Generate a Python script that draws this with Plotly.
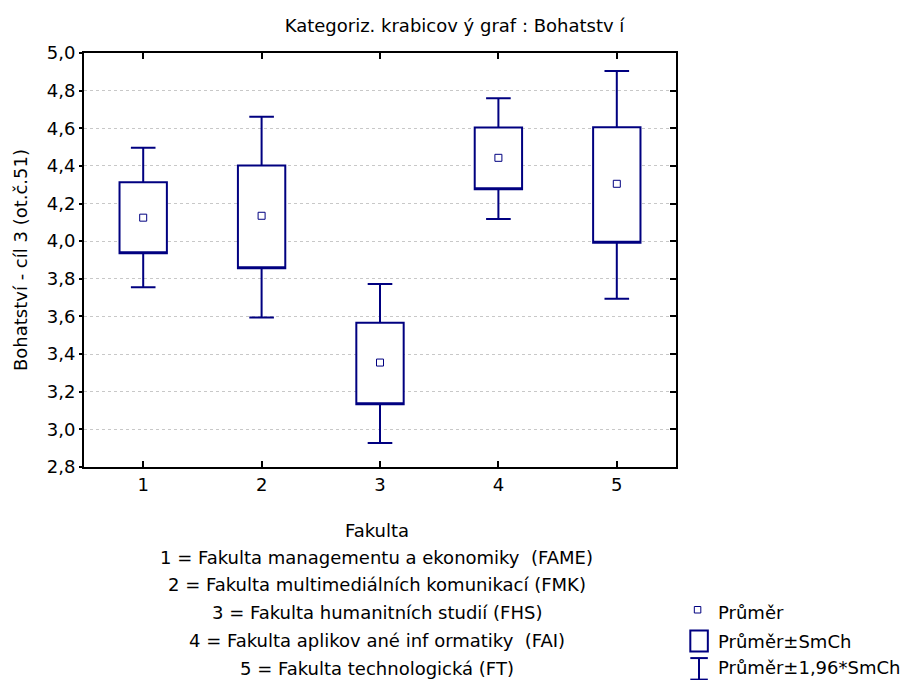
import plotly.graph_objects as go

# ---- data ----
categories = [1, 2, 3, 4, 5]
tick_labels = ["1", "2", "3", "4", "5"]
means = [4.125, 4.135, 3.355, 4.443, 4.305]
box_low = [3.936, 3.856, 3.134, 4.276, 3.992]     # mean - SE
box_high = [4.313, 4.402, 3.566, 4.604, 4.606]    # mean + SE
whisk_low = [3.755, 3.595, 2.928, 4.118, 3.694]   # mean - 1.96*SE
whisk_high = [4.496, 4.661, 3.772, 4.760, 4.904]  # mean + 1.96*SE

title_text = "Kategoriz. krabicov ý graf : Bohatstv í"
y_title = "Bohatství - cíl 3 (ot.č.51)"
x_title_lines = [
    "Fakulta",
    "1 = Fakulta managementu a ekonomiky  (FAME)",
    "2 = Fakulta multimediálních komunikací (FMK)",
    "3 = Fakulta humanitních studií (FHS)",
    "4 = Fakulta aplikov ané inf ormatiky  (FAI)",
    "5 = Fakulta technologická (FT)",
]
legend_labels = ["Průměr", "Průměr±SmCh", "Průměr±1,96*SmCh"]

NAVY = "#000080"
FONT = "DejaVu Sans"
FS = 18

W, H = 909, 680
L, R, T, B = 84.3, 675.7, 53.3, 466.7  # plot area in pixels


def px_x(px):
    return (px - L) / (R - L)


def px_y(py):
    return (B - py) / (B - T)


fig = go.Figure()

fig.add_trace(go.Box(
    x=categories,
    q1=box_low, median=box_low, q3=box_high,
    lowerfence=whisk_low, upperfence=whisk_high,
    width=0.4, whiskerwidth=0.52,
    fillcolor="white",
    line=dict(color=NAVY, width=2),
    boxpoints=False,
    showlegend=False,
    hoverinfo="skip",
))

fig.add_trace(go.Scatter(
    x=categories, y=means, mode="markers",
    marker=dict(symbol="square-open", size=7, color=NAVY, line=dict(width=1, color=NAVY)),
    showlegend=False, hoverinfo="skip",
))

# dummy trace to activate the right-hand mirror axis
fig.add_trace(go.Scatter(x=[None], y=[None], yaxis="y2", showlegend=False, hoverinfo="skip"))

annotations = []
# x-axis title block
x_line_py = [530, 557, 584, 612, 640, 668]
for txt, py in zip(x_title_lines, x_line_py):
    annotations.append(dict(
        text=txt, xref="paper", yref="paper", x=px_x(377), y=px_y(py),
        xanchor="center", yanchor="middle", showarrow=False,
        font=dict(family=FONT, size=FS, color="black"),
    ))

# legend texts
leg_py = [612, 641, 667]
for txt, py in zip(legend_labels, leg_py):
    annotations.append(dict(
        text=txt, xref="paper", yref="paper", x=px_x(716), y=px_y(py),
        xanchor="left", yanchor="middle", showarrow=False,
        font=dict(family=FONT, size=FS, color="black"),
    ))

shapes = [
    # mean symbol
    dict(type="rect", xref="paper", yref="paper",
         x0=px_x(694), x1=px_x(700.5), y0=px_y(606), y1=px_y(612.5),
         line=dict(color=NAVY, width=1), fillcolor="white"),
    # box symbol
    dict(type="rect", xref="paper", yref="paper",
         x0=px_x(690), x1=px_x(707.5), y0=px_y(630), y1=px_y(651),
         line=dict(color=NAVY, width=2), fillcolor="white"),
    # whisker symbol
    dict(type="line", xref="paper", yref="paper",
         x0=px_x(698.7), x1=px_x(698.7), y0=px_y(657.5), y1=px_y(679),
         line=dict(color=NAVY, width=2)),
    dict(type="line", xref="paper", yref="paper",
         x0=px_x(690), x1=px_x(707.5), y0=px_y(657.5), y1=px_y(657.5),
         line=dict(color=NAVY, width=2)),
    dict(type="line", xref="paper", yref="paper",
         x0=px_x(690), x1=px_x(707.5), y0=px_y(679), y1=px_y(679),
         line=dict(color=NAVY, width=2)),
]

fig.update_layout(
    width=W, height=H,
    margin=dict(l=L, r=W - R, t=T, b=H - B, pad=0),
    paper_bgcolor="white", plot_bgcolor="white",
    separators=", ",
    font=dict(family=FONT, size=FS, color="black"),
    title=dict(text=title_text, x=0.5, xanchor="center", xref="container",
               y=1 - 26 / H, yanchor="middle", yref="container",
               font=dict(family=FONT, size=FS, color="black")),
    xaxis=dict(
        range=[0.5, 5.5], tickmode="array", tickvals=categories, ticktext=tick_labels,
        ticks="inside", ticklen=6, tickwidth=2, tickcolor="black",
        showline=True, linecolor="black", linewidth=2, mirror="ticks",
        showgrid=False, zeroline=False, fixedrange=True,
    ),
    yaxis=dict(
        range=[2.8, 5.0], tickmode="linear", tick0=2.8, dtick=0.2, tickformat=".1f",
        ticks="outside", ticklen=3, tickwidth=2, tickcolor="black",
        showline=True, linecolor="black", linewidth=2,
        showgrid=True, gridcolor="#c8c8c8", gridwidth=1, griddash="dot",
        zeroline=False, fixedrange=True,
        title=dict(text=y_title, standoff=14, font=dict(family=FONT, size=FS)),
    ),
    yaxis2=dict(
        overlaying="y", side="right", anchor="x",
        range=[2.8, 5.0], tickmode="linear", tick0=2.8, dtick=0.2,
        ticks="inside", ticklen=6, tickwidth=2, tickcolor="black",
        showticklabels=False, showline=True, linecolor="black", linewidth=2,
        showgrid=False, zeroline=False, fixedrange=True,
    ),
    annotations=annotations,
    shapes=shapes,
)

fig.write_html(
    "out.html",
    config={"displayModeBar": False},
    post_script="document.body.style.margin='0';document.body.style.overflow='hidden';",
)
